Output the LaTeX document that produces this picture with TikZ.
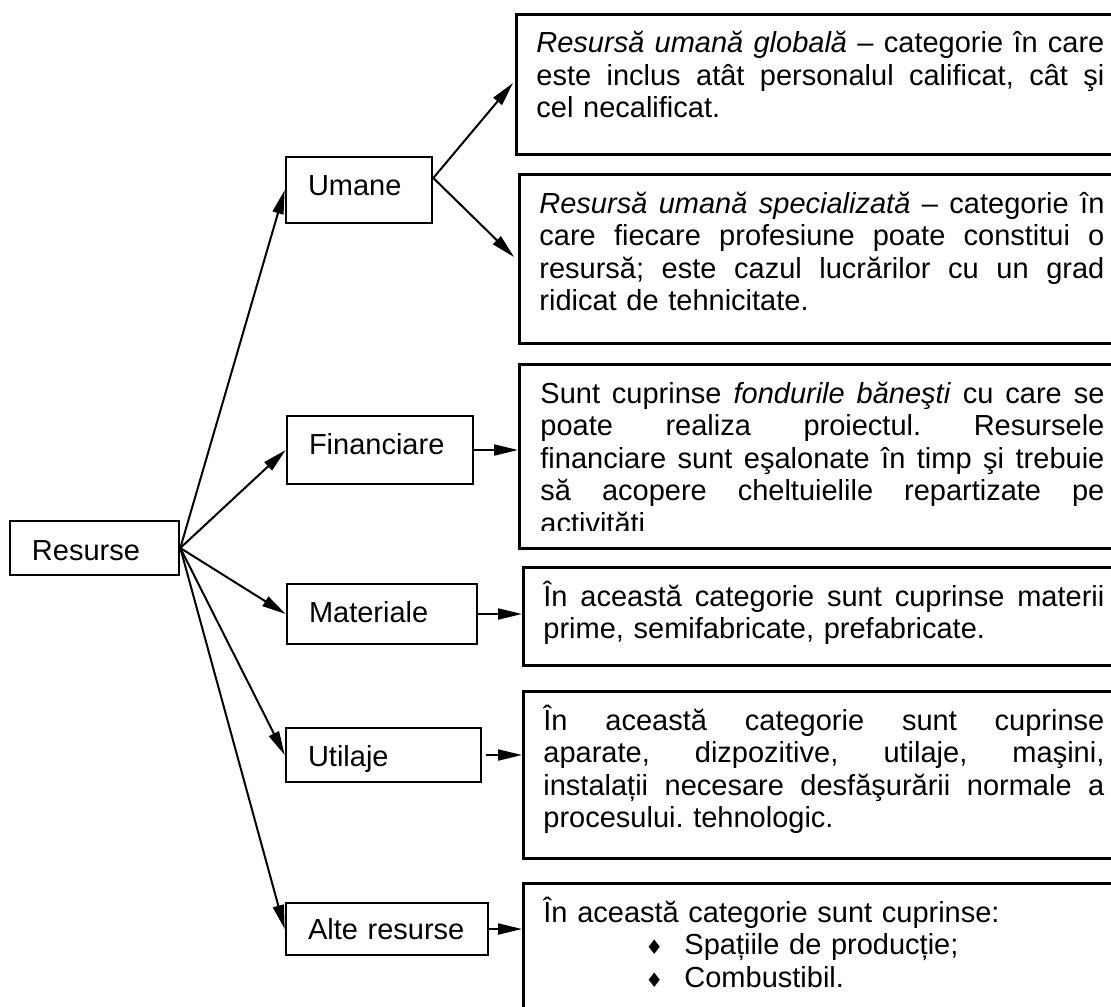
\documentclass[tikz,border=0pt]{standalone}
\usepackage{fontspec}
\setmainfont{Liberation Sans}
\newfontfamily\symfnt{DejaVu Sans}
\usetikzlibrary{arrows.meta}
% one justified line: the spare room is shared equally by the word spaces
\newcommand\jline[1]{{\spaceskip=\fontdimen2\font plus 1fil\relax\hbox to\hsize{#1}}}
% small diamond bullet
\newcommand\dmd{{\symfnt\fontsize{10pt}{10pt}\selectfont ♦}}
\frenchspacing
\begin{document}
\begin{tikzpicture}[x=0.5pt,y=-0.5pt,
  every node/.style={font=\fontsize{14.5pt}{16.25pt}\selectfont},
  lbl/.style={draw, line width=1.3pt, inner xsep=11pt, inner ysep=0pt, align=left, text depth=0pt},
  tbox/.style={draw, line width=1.3pt, inner sep=0pt, anchor=north west},
  txt/.style={inner sep=0pt, anchor=base west},
  arr/.style={line width=1pt, -{Triangle[length=12pt,width=5.5pt]}}]

\useasboundingbox (0,0) rectangle (1111,1006);
\fill[white] (0,0) rectangle (1111,1006);
\clip (0,0) rectangle (1111,1006);

% category boxes
\node[lbl, text width=62.5pt, minimum height=27pt, text height=12pt] (res) at (94.5,548) {Resurse};
\node[lbl, text width=51pt, minimum height=33pt, text height=5pt] (uma) at (359,190) {Umane};
\node[lbl, text width=71pt, minimum height=34pt, text height=4pt] (fin) at (380,450) {Financiare};
\node[lbl, text width=73pt, minimum height=30pt, text height=8pt] (mat) at (382,614) {Materiale};
\node[lbl, text width=75.5pt, minimum height=27pt, text height=11pt] (uti) at (383.5,755) {Utilaje};
\node[lbl, text width=79pt, minimum height=26pt, text height=10pt] (alt) at (387,929) {Alte resurse};

% description frames
\node[tbox, minimum width=305pt, minimum height=70pt] (tb1) at (515,13) {};
\node[tbox, minimum width=303.5pt, minimum height=84.5pt] (tb2) at (518,173) {};
\node[tbox, minimum width=303.5pt, minimum height=92pt] (tb3) at (518,363) {};
\node[tbox, minimum width=301.5pt, minimum height=49pt] (tb4) at (522,566) {};
\node[tbox, minimum width=301.5pt, minimum height=83.5pt] (tb5) at (522,690) {};
\node[tbox, minimum width=301.5pt, minimum height=74pt] (tb6) at (522,882) {};

% description texts
\node[txt, text width=284pt] (d1) at (536,53) {%
\jline{\textit{Resursă umană globală} – categorie în care}
\jline{este inclus atât personalul calificat, cât şi}
cel necalificat.};

\node[txt, text width=282.5pt] (d2) at (539,213) {%
\jline{\textit{Resursă umană specializată} – categorie în}
\jline{care fiecare profesiune poate constitui o}
\jline{resursă; este cazul lucrărilor cu un grad}
ridicat de tehnicitate.};

\begin{scope}
\clip (518,363) rectangle (1111,530);
\node[txt, text width=282pt] (d3) at (540,403) {%
\jline{Sunt cuprinse \textit{fondurile băneşti} cu care se}
\jline{poate realiza proiectul. Resursele}
\jline{financiare sunt eşalonate în timp şi trebuie}
\jline{să acopere cheltuielile repartizate pe}
activităţi};
\end{scope}

\node[txt, text width=280.5pt] (d4) at (543,606) {%
\jline{În această categorie sunt cuprinse materii}
prime, semifabricate, prefabricate.};

\node[txt, text width=280.5pt] (d5) at (543,730) {%
\jline{În această categorie sunt cuprinse}
\jline{aparate, dizpozitive, utilaje, maşini,}
\jline{instalații necesare desfăşurării normale a}
procesului. tehnologic.};

\node[txt, text width=280.5pt] (d6) at (543,922) {%
În această categorie sunt cuprinse:\\
\hspace*{51pt}\makebox[19.5pt][l]{\dmd}Spațiile de producție;\\
\hspace*{51pt}\makebox[19.5pt][l]{\dmd}Combustibil.};

% connectors
\coordinate (t1) at (513,83);
\coordinate (t2) at (514,257);
\draw[arr] (res.east) -- (uma.west);
\draw[arr] (res.east) -- (fin.west);
\draw[arr] (res.east) -- (mat.west);
\draw[arr] (res.east) -- (uti.west);
\draw[arr] (res.east) -- (alt.west);
\draw[arr] ([yshift=6pt]uma.east) -- (t1);
\draw[arr] ([yshift=6pt]uma.east) -- (t2);
\draw[arr] (fin.east) -- (fin.east -| tb3.west);
\draw[arr] (mat.east) -- (mat.east -| tb4.west);
\draw[arr] ([xshift=2pt]uti.east) -- (uti.east -| tb5.west);
\draw[arr] (alt.east) -- (alt.east -| tb6.west);
\end{tikzpicture}
\end{document}
